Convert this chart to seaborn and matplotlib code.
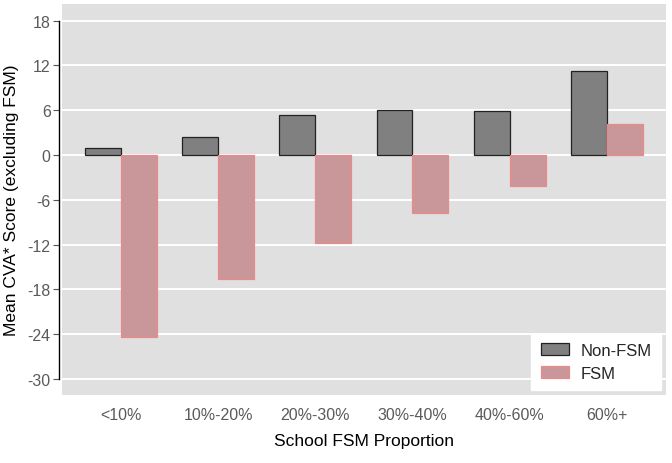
import pandas as pd
import matplotlib
matplotlib.use("Agg")
import matplotlib.pyplot as plt
import seaborn as sns

# --- DATA ---
CATEGORIES = ["<10%", "10%-20%", "20%-30%", "30%-40%", "40%-60%", "60%+"]
NON_FSM = [0.9, 2.4, 5.4, 6.0, 5.9, 11.2]
FSM = [-24.4, -16.6, -11.8, -7.8, -4.1, 4.1]
GROUPS = ["Non-FSM", "FSM"]
Y_TICKS = [-30, -24, -18, -12, -6, 0, 6, 12, 18]

GREY = "#808080"
PINK = "#c9979a"
PINK_EDGE = "#e98a8a"

sns.set_style("white")
plt.rcParams["font.family"] = ["Liberation Sans", "DejaVu Sans"]
plt.rcParams["axes.unicode_minus"] = False

df = pd.DataFrame({
    "category": CATEGORIES * 2,
    "group": [GROUPS[0]] * len(CATEGORIES) + [GROUPS[1]] * len(CATEGORIES),
    "score": NON_FSM + FSM,
})

fig, ax = plt.subplots(figsize=(6.72, 4.64), dpi=100)
fig.subplots_adjust(left=0.092, right=0.991, top=0.989, bottom=0.147)
ax.set_facecolor("#e0e0e0")

sns.barplot(data=df, x="category", y="score", hue="group", order=CATEGORIES,
            hue_order=GROUPS, palette=[GREY, PINK], width=0.74, gap=0,
            saturation=1, errorbar=None, ax=ax, zorder=3)

# edges per series
for bar in ax.containers[0]:
    bar.set_edgecolor("#222222")
    bar.set_linewidth(0.9)
for bar in ax.containers[1]:
    bar.set_edgecolor(PINK_EDGE)
    bar.set_linewidth(0.9)

ax.set_xlim(-0.61, 5.61)
ax.set_ylim(-32.1, 20.2)
ax.set_yticks(Y_TICKS)
ax.yaxis.grid(True, color="white", linewidth=1.4, zorder=0)
ax.set_axisbelow(True)
for gl in ax.get_ygridlines()[:1] + ax.get_ygridlines()[-1:]:
    gl.set_visible(False)

for side in ["top", "right", "bottom"]:
    ax.spines[side].set_visible(False)
ax.spines["left"].set_bounds(-30, 18)
ax.spines["left"].set_position(("outward", 2))
ax.spines["left"].set_color("black")
ax.spines["left"].set_linewidth(1.0)

ax.tick_params(axis="y", length=4, width=0.8, color="#555555", labelcolor="#5a5a5a",
               labelsize=11.5, left=True, pad=2)
ax.tick_params(axis="x", length=0, labelcolor="#5a5a5a", labelsize=11.5, pad=9)

ax.set_xlabel("School FSM Proportion", fontsize=12.5, color="black", labelpad=8)
ax.set_ylabel("Mean CVA* Score (excluding FSM)", fontsize=12.5, color="black", labelpad=6)

handles = [ax.containers[0][0], ax.containers[1][0]]
leg = ax.legend(handles, GROUPS, loc="lower right", fontsize=12, frameon=True,
                fancybox=False, handlelength=1.7, handleheight=0.7, handletextpad=0.7,
                borderaxespad=0.3, borderpad=0.55, labelspacing=0.45)
leg.get_frame().set_facecolor("white")
leg.get_frame().set_edgecolor("white")
leg.get_frame().set_alpha(1)

fig.savefig("out.png", dpi=100)
